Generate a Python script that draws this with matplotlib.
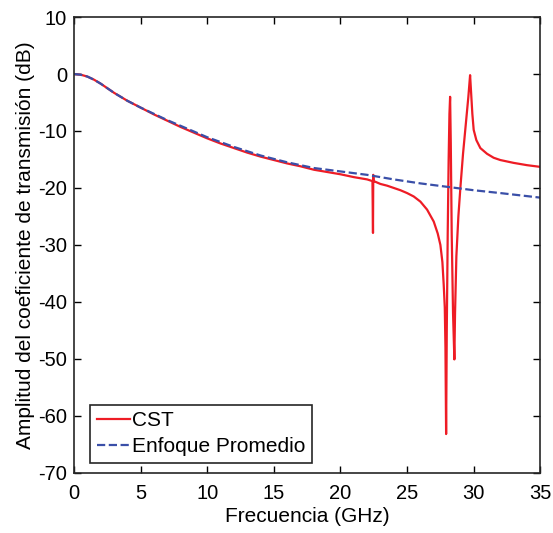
import matplotlib.pyplot as plt
import numpy as np

plt.rcParams['font.family'] = ['Liberation Sans', 'DejaVu Sans']
plt.rcParams['axes.unicode_minus'] = False

# CST simulacion (frecuencia GHz, amplitud dB)
f_cst = [0, 0.5, 1, 1.5, 2, 2.5, 3, 3.5, 4, 4.5, 5, 6, 7, 8, 9, 10, 11, 12, 13, 14,
         15, 16, 17, 18, 19, 20, 21, 22, 22.4, 22.44, 22.46, 22.48, 22.5, 23,
         23.5, 24, 24.5, 25, 25.5, 26, 26.5, 27, 27.3, 27.5, 27.65, 27.75, 27.83,
         27.88, 27.93, 27.98, 28.05, 28.12, 28.18, 28.23, 28.28, 28.35, 28.45,
         28.55, 28.6, 28.7, 28.85, 29.0, 29.2, 29.4, 29.6, 29.73, 29.8, 29.9,
         30.0, 30.2, 30.5, 31, 31.5, 32, 33, 34, 35]
a_cst = [0, -0.12, -0.45, -1.0, -1.7, -2.5, -3.3, -4.0, -4.7, -5.3, -5.9, -7.1,
         -8.2, -9.3, -10.3, -11.3, -12.2, -13.0, -13.8, -14.5, -15.1, -15.7, -16.2,
         -16.8, -17.2, -17.6, -18.1, -18.5, -18.8, -27.9, -17.7, -18.7, -18.8,
         -19.3, -19.6, -20.0, -20.4, -20.9, -21.5, -22.4, -23.8, -25.9, -28.0,
         -30.0, -33.0, -37.0, -41.0, -48.0, -63.2, -45.0, -28.0, -15.0, -7.0,
         -4.0, -12.0, -28.0, -42.0, -50.1, -42.0, -32.0, -25.0, -20.0, -14.0,
         -9.0, -4.0, -0.2, -3.0, -7.0, -9.8, -11.6, -13.0, -14.0, -14.7, -15.1,
         -15.6, -16.0, -16.3]

# Enfoque promedio
f_prom = [0, 0.5, 1, 1.5, 2, 2.5, 3, 3.5, 4, 4.5, 5, 6, 7, 8, 9, 10, 12, 14, 16, 18,
          20, 22, 24, 26, 28, 30, 32, 35]
a_prom = [0, -0.12, -0.45, -1.0, -1.7, -2.5, -3.3, -4.0, -4.7, -5.3, -5.9, -7.0,
          -8.1, -9.1, -10.1, -11.1, -12.8, -14.3, -15.5, -16.5, -17.1, -17.7,
          -18.5, -19.2, -19.8, -20.4, -20.9, -21.7]

fig = plt.figure(figsize=(5.53, 5.33), dpi=100)
ax = fig.add_axes([0.134, 0.113, 0.843, 0.855])

ax.plot(f_cst, a_cst, '-', color='#ee1c25', lw=1.6, label='CST')
ax.plot(f_prom, a_prom, '--', color='#3a4fa8', lw=1.6, label='Enfoque Promedio')

ax.set_xlim(0, 35)
ax.set_ylim(-70, 10)
ax.set_xticks(np.arange(0, 36, 5))
ax.set_yticks(np.arange(-70, 11, 10))
ax.tick_params(axis='both', direction='in', top=True, right=True, labelsize=14.5,
               length=5, width=1)
ax.tick_params(axis='x', pad=8)
ax.tick_params(axis='y', pad=5)
for s in ax.spines.values():
    s.set_linewidth(1.2)
    s.set_color('#262626')
ax.set_xlabel('Frecuencia (GHz)', fontsize=15, labelpad=3)
ax.set_ylabel('Amplitud del coeficiente de transmisión (dB)', fontsize=15, labelpad=2)

leg = ax.legend(loc='lower left', fontsize=15, fancybox=False, edgecolor='#262626',
                handlelength=1.6, handletextpad=0.1, borderpad=0.3,
                labelspacing=0.35, borderaxespad=0, bbox_to_anchor=(0.035, 0.022),
                framealpha=1)
leg.get_frame().set_linewidth(1.2)
# recortar el relleno horizontal del recuadro
leg._legend_box.sep = 0
fig.canvas.draw()

plt.savefig('out.png', dpi=100)
